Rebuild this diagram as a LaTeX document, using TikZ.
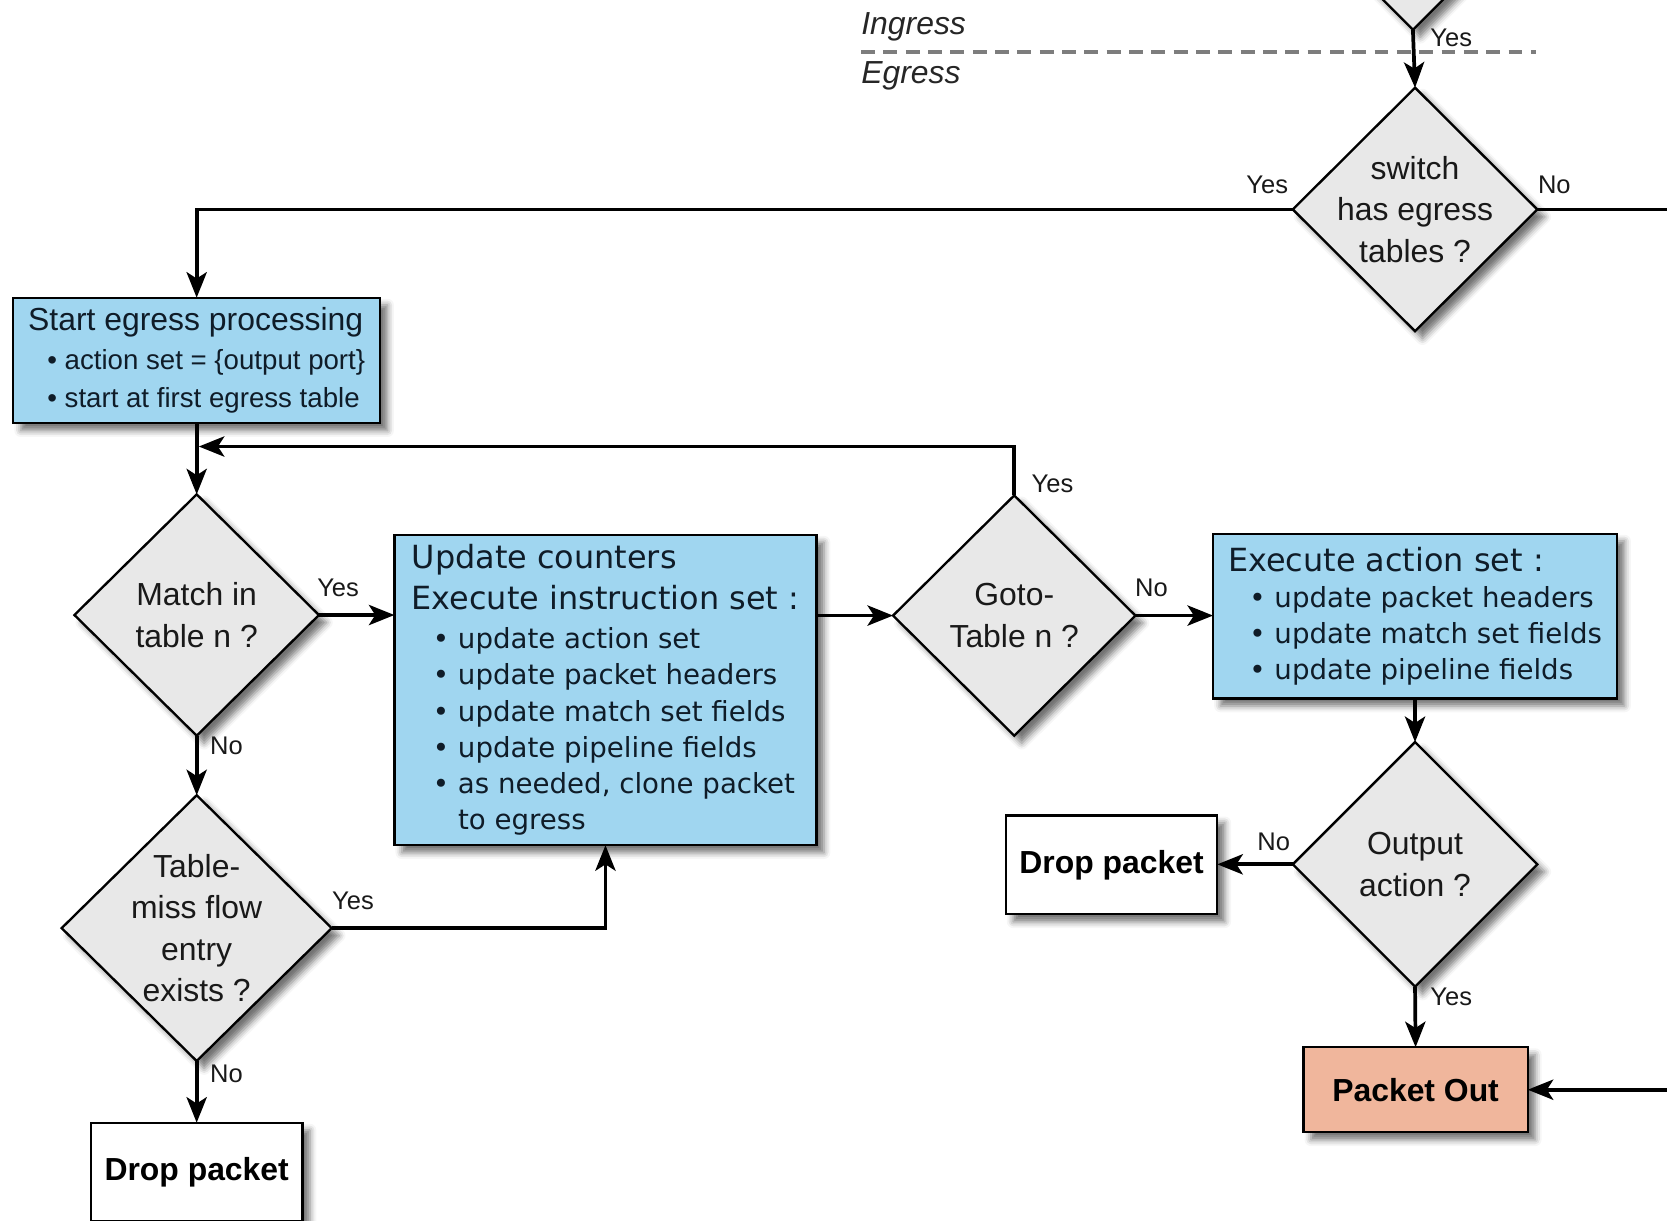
\documentclass[tikz,border=0pt]{standalone}
\usepackage{fontspec}
\setmainfont{Liberation Sans}
\newfontfamily\dejavu{DejaVu Sans}
\usetikzlibrary{shapes.geometric,arrows.meta,shadows.blur}
\definecolor{boxblue}{RGB}{160,214,240}
\definecolor{salmonbox}{RGB}{240,182,156}
\definecolor{diagray}{RGB}{232,232,232}
\definecolor{dashgray}{RGB}{125,125,125}
\definecolor{navytext}{RGB}{15,28,40}
\tikzset{
  shd/.style={blur shadow={shadow xshift=7pt, shadow yshift=-7pt, shadow blur radius=6pt, shadow opacity=55}},
  box/.style={rectangle, draw=black, line width=2.2pt, shd, outer sep=0pt},
  bluebox/.style={box, fill=boxblue, text=navytext, align=left, inner sep=0pt},
  plainbox/.style={box, fill=white, inner sep=0pt, font=\bfseries\fontsize{30}{36}\selectfont},
  dia/.style={diamond, draw=black, line width=2.2pt, fill=diagray, shd, inner sep=0pt, outer sep=0pt},
  dtext/.style={align=center, font=\fontsize{30}{39}\selectfont, text=black!90, inner sep=0pt},
  lab/.style={font=\fontsize{24}{28}\selectfont, inner sep=0pt, text=black!90},
  arr/.style={line width=3.5pt, -{Stealth[length=24pt,width=19pt,inset=6pt]}},
  conn/.style={line width=3.5pt},
}
\begin{document}
\begin{tikzpicture}[x=1pt,y=-1pt]
\useasboundingbox (0,0) rectangle (1568,1148);
\clip (0,0) rectangle (1568,1148);

% ingress / egress separator
\node[font=\itshape\fontsize{30}{36}\selectfont, anchor=west, text=black!85, inner sep=0pt] (ing) at (810,25) {Ingress};
\node[font=\itshape\fontsize{30}{36}\selectfont, anchor=west, text=black!85, inner sep=0pt] (egr) at (810,71) {Egress};
\coordinate (dl) at (810,49);
\coordinate (dr) at (1445,49);
\draw[dashgray, line width=3pt, dash pattern=on 13pt off 8pt] (dl) -- (dr);

% diamonds
\node[dia, minimum width=230pt, minimum height=230pt] (topd) at (1329,-87) {};
\node[dia, minimum width=230pt, minimum height=229pt,
  label={[dtext]center:{switch\\has egress\\tables ?}}] (sw) at (1331,197) {};
\node[dia, minimum width=230pt, minimum height=227pt,
  label={[dtext]center:{Match in\\table n ?}}] (match) at (185,578.5) {};
\node[dia, minimum width=254pt, minimum height=250pt,
  label={[dtext]center:{Table-\\miss flow\\entry\\exists ?}}] (miss) at (185,873) {};
\node[dia, minimum width=228pt, minimum height=226pt,
  label={[dtext]center:{Goto-\\Table n ?}}] (goto) at (954,579) {};
\node[dia, minimum width=230pt, minimum height=230pt,
  label={[dtext]center:{Output\\action ?}}] (out) at (1331,813) {};

% boxes
\node[bluebox, minimum width=345pt, minimum height=118pt,
  font=\fontsize{26}{36}\selectfont] (start) at (185,339)
  {{\fontsize{30}{36}\selectfont Start egress processing}\\
   \hspace*{18pt}• action set = \{output port\}\\
   \hspace*{18pt}• start at first egress table};

\node[bluebox, minimum width=397pt, minimum height=292pt,
  font=\dejavu\fontsize{26}{34}\selectfont] (update) at (569.5,649)
  {{\fontsize{30}{34}\selectfont Update counters}\\[4pt]
   {\fontsize{30}{34}\selectfont Execute instruction set :}\\[3pt]
   \hspace*{20pt}• update action set\\
   \hspace*{20pt}• update packet headers\\
   \hspace*{20pt}• update match set fields\\
   \hspace*{20pt}• update pipeline fields\\
   \hspace*{20pt}• as needed, clone packet\\
   \hspace*{43.6pt}to egress};

\node[bluebox, minimum width=380pt, minimum height=155pt,
  font=\dejavu\fontsize{26}{34}\selectfont] (exec) at (1331,579.5)
  {{\fontsize{30}{34}\selectfont Execute action set :}\\
   \hspace*{20pt}• update packet headers\\
   \hspace*{20pt}• update match set fields\\
   \hspace*{20pt}• update pipeline fields};

\node[plainbox, minimum width=199pt, minimum height=93pt] (drop2) at (1045.5,813.5) {Drop packet};
\node[plainbox, minimum width=199pt, minimum height=93pt] (drop1) at (185,1102.5) {Drop packet};
\node[box, fill=salmonbox, inner sep=0pt, minimum width=211pt, minimum height=80pt,
  font=\bfseries\fontsize{30}{36}\selectfont] (pout) at (1331.5,1025) {Packet Out};

% free ends at the right border
\coordinate (eR1) at (1580,197);
\coordinate (eR2) at (1580,1025);
\coordinate (loopin) at (187,420);

% connectors
\draw[arr] (topd.south) -- (sw.north);
\draw[arr] (sw.west) -| (start.north);
\draw[conn] (sw.east) -- (eR1);
\draw[arr] (start.south) -- (match.north);
\draw[arr] (goto.north) |- (loopin);
\draw[arr] (match.east) -- (match.east -| update.west);
\draw[arr] (match.south) -- (miss.north);
\draw[arr] (update.east |- goto.west) -- (goto.west);
\draw[arr] (goto.east) -- (goto.east -| exec.west);
\draw[arr] (exec.south) -- (out.north);
\draw[arr] (out.west) -- (out.west -| drop2.east);
\draw[arr] (out.south) -- (pout.north);
\draw[arr] (eR2) -- (pout.east);
\draw[arr] (miss.east) -| (update.south);
\draw[arr] (miss.south) -- (drop1.north);

% connector labels
\node[lab] (y1) at (1365,36) {Yes};
\node[lab] (y2) at (1192,174) {Yes};
\node[lab] (n1) at (1462,174) {No};
\node[lab] (y3) at (990,455) {Yes};
\node[lab] (y4) at (318,553) {Yes};
\node[lab] (n2) at (213,702) {No};
\node[lab] (n3) at (1083,553) {No};
\node[lab] (y5) at (332,847) {Yes};
\node[lab] (n4) at (213,1010) {No};
\node[lab] (n5) at (1198,792) {No};
\node[lab] (y6) at (1365,938) {Yes};
\end{tikzpicture}
\end{document}
